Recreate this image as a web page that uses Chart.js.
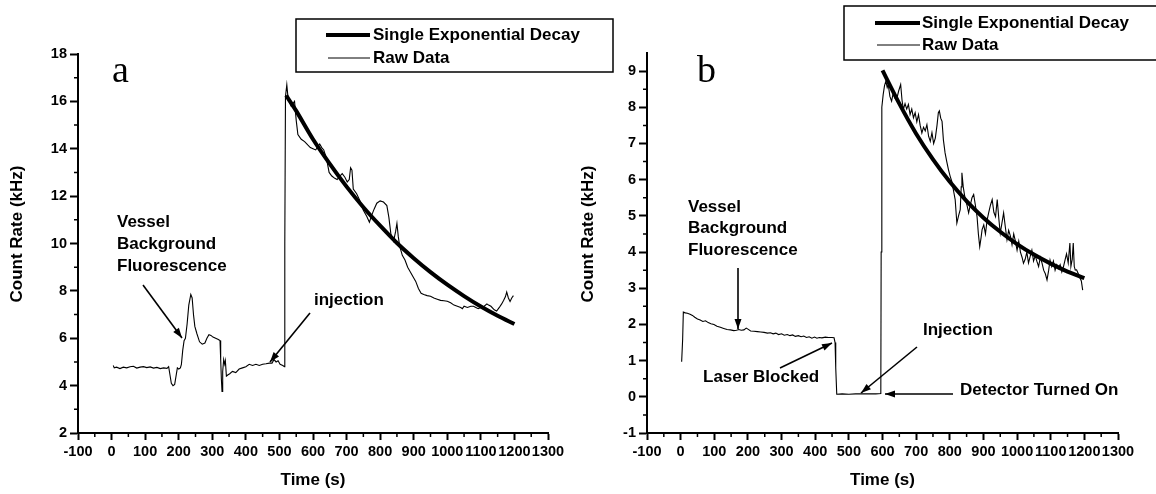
<!DOCTYPE html>
<html>
<head>
<meta charset="utf-8">
<script src="https://cdn.jsdelivr.net/npm/chart.js@4.4.0/dist/chart.umd.min.js"></script>
<style>
  html, body { margin: 0; padding: 0; background: #fff; }
  #wrap { position: relative; width: 1156px; height: 494px; }
  canvas { position: absolute; left: 0; top: 0; }
</style>
</head>
<body>
<div id="wrap">
  <canvas id="chartA" width="1156" height="494"></canvas>
  <canvas id="chartB" width="1156" height="494"></canvas>
</div>
<script>
// Panel a - raw count rate (kHz) against time (s)
const rawTimeA = [5, 8, 15, 25, 35, 45, 55, 65, 75, 85, 95, 105, 115, 125, 135, 145, 155, 165, 170, 174, 178, 183, 188, 192, 196, 200, 205, 208, 212, 216, 220, 225, 230, 236, 240, 244, 248, 254, 262, 270, 278, 284, 290, 296, 302, 310, 318, 323, 325, 327, 329, 331, 334, 337, 339, 342, 346, 352, 360, 370, 380, 390, 400, 410, 420, 430, 440, 450, 460, 470, 478, 484, 490, 496, 502, 510, 515, 516, 518, 522, 526, 535, 545, 550, 555, 565, 575, 585, 592, 600, 608, 615, 620, 626, 632, 640, 648, 656, 665, 672, 680, 687, 695, 702, 708, 712, 716, 720, 730, 740, 750, 760, 768, 775, 782, 790, 800, 810, 820, 826, 832, 840, 846, 850, 854, 858, 866, 874, 882, 890, 898, 906, 914, 922, 930, 940, 950, 960, 970, 980, 990, 1000, 1010, 1020, 1030, 1040, 1045, 1050, 1060, 1070, 1078, 1085, 1092, 1100, 1110, 1118, 1123, 1130, 1140, 1147, 1155, 1162, 1168, 1173, 1177, 1182, 1187, 1192, 1197];
const rawRateA = [4.85, 4.75, 4.78, 4.72, 4.78, 4.75, 4.8, 4.82, 4.74, 4.78, 4.8, 4.76, 4.79, 4.74, 4.77, 4.72, 4.75, 4.73, 4.8, 4.45, 4.1, 4.0, 4.05, 4.4, 4.75, 4.7, 4.75, 4.9, 5.5, 5.9, 6.0, 6.6, 7.4, 7.85, 7.7, 7.0, 6.5, 6.2, 5.85, 5.75, 5.8, 6.0, 6.15, 6.12, 6.05, 6.0, 5.95, 5.9, 5.1, 4.3, 3.75, 4.6, 5.1, 4.9, 5.05, 4.4, 4.45, 4.5, 4.6, 4.55, 4.7, 4.75, 4.8, 4.9, 4.85, 4.9, 4.85, 4.9, 4.92, 4.95, 4.95, 5.1, 5.0, 5.05, 4.9, 4.85, 4.8, 10.0, 16.2, 16.7, 16.1, 15.8, 16.0, 15.2, 14.6, 14.4, 14.3, 14.15, 14.05, 14.0, 13.95, 14.1, 14.2, 14.05, 13.95, 13.6, 13.0, 12.85, 12.75, 12.7, 12.85, 12.95, 12.8, 12.6, 12.7, 13.2, 13.1, 12.3, 12.1, 11.8, 11.4, 11.15, 10.9, 11.2, 11.45, 11.7, 11.8, 11.75, 11.6, 11.1, 10.4, 10.1, 10.5, 10.85, 10.3, 9.9, 9.5, 9.3, 9.0, 8.8, 8.6, 8.4, 8.1, 7.9, 7.85, 7.8, 7.77, 7.7, 7.65, 7.6, 7.58, 7.56, 7.5, 7.4, 7.35, 7.3, 7.25, 7.35, 7.3, 7.35, 7.35, 7.3, 7.25, 7.3, 7.35, 7.45, 7.4, 7.35, 7.2, 7.15, 7.3, 7.45, 7.6, 7.75, 7.95, 7.7, 7.55, 7.7, 7.8];
const fitTimeA = [520, 550, 600, 650, 700, 750, 800, 850, 900, 950, 1000, 1050, 1100, 1150, 1200];
const fitRateA = [16.25, 15.6, 14.4, 13.36, 12.4, 11.53, 10.75, 10.02, 9.38, 8.79, 8.26, 7.78, 7.34, 6.95, 6.6];

// Panel b
const rawTimeB = [3, 6, 8, 14, 20, 28, 35, 42, 50, 58, 66, 74, 82, 90, 99, 108, 118, 128, 138, 148, 158, 166, 173, 180, 188, 195, 200, 208, 218, 228, 238, 248, 258, 267, 275, 283, 291, 300, 308, 317, 325, 333, 341, 350, 358, 366, 374, 382, 390, 398, 405, 412, 420, 430, 440, 450, 456, 459, 461, 464, 480, 500, 520, 540, 560, 580, 595, 596, 598, 602, 606, 610, 614, 617, 622, 627, 632, 637, 642, 648, 654, 658, 662, 667, 672, 677, 682, 687, 692, 697, 702, 707, 712, 717, 722, 727, 732, 737, 742, 747, 752, 757, 762, 766, 769, 773, 777, 781, 786, 791, 796, 801, 806, 811, 816, 821, 826, 831, 834, 836, 840, 846, 851, 856, 861, 866, 871, 876, 881, 885, 889, 893, 896, 901, 906, 911, 916, 921, 926, 931, 936, 941, 946, 950, 955, 960, 965, 970, 975, 980, 985, 990, 995, 1000, 1005, 1010, 1015, 1019, 1024, 1029, 1034, 1039, 1044, 1049, 1054, 1059, 1064, 1069, 1074, 1079, 1084, 1089, 1094, 1098, 1103, 1108, 1113, 1118, 1123, 1128, 1133, 1138, 1143, 1147, 1152, 1157, 1160, 1164, 1167, 1170, 1173, 1177, 1182, 1187, 1191, 1195];
const rawRateB = [0.97, 1.6, 2.34, 2.32, 2.31, 2.28, 2.25, 2.2, 2.15, 2.12, 2.08, 2.1, 2.05, 2.02, 2.0, 1.95, 1.92, 1.89, 1.86, 1.85, 1.83, 1.84, 1.86, 1.84, 1.85, 1.9, 1.87, 1.82, 1.81, 1.8, 1.79, 1.78, 1.76, 1.77, 1.74, 1.76, 1.72, 1.74, 1.7, 1.72, 1.69, 1.71, 1.67, 1.69, 1.66, 1.68, 1.64, 1.66, 1.62, 1.65, 1.62, 1.64, 1.63, 1.65, 1.64, 1.64, 1.63, 1.5, 0.8, 0.07, 0.08, 0.07, 0.08, 0.08, 0.08, 0.08, 0.09, 4.0, 8.0, 8.35, 8.6, 8.72, 8.55, 8.63, 8.3, 8.17, 8.4, 8.25, 8.22, 8.45, 8.63, 8.2, 7.94, 8.1, 7.95, 8.08, 7.8, 7.95, 7.71, 7.85, 7.6, 7.8, 7.5, 7.29, 7.45, 7.35, 7.52, 7.2, 7.06, 7.3, 7.0, 7.15, 7.5, 7.85, 7.9, 7.7, 7.61, 7.1, 6.74, 6.5, 6.28, 6.1, 5.95, 5.7, 5.45, 4.8, 5.0, 5.17, 5.8, 6.19, 5.8, 5.45, 5.3, 5.08, 5.3, 5.5, 5.59, 5.3, 4.98, 4.5, 4.15, 4.4, 4.62, 4.75, 4.5, 4.89, 5.1, 5.3, 5.45, 5.1, 4.98, 5.45, 4.9, 4.52, 4.8, 5.08, 4.7, 4.34, 4.6, 4.45, 4.2, 4.5, 4.3, 4.05, 4.3, 4.0, 3.85, 3.69, 3.8, 4.0, 3.7, 3.88, 4.05, 3.75, 3.9, 3.74, 3.6, 3.85, 3.7, 3.5, 3.4, 3.23, 3.5, 3.78, 3.6, 3.75, 3.5, 3.65, 3.55, 3.65, 3.45, 3.6, 3.8, 3.95, 3.7, 4.25, 3.6, 3.8, 4.25, 3.6, 3.5, 3.51, 3.4, 3.28, 3.2, 2.95];
const fitTimeB = [600, 650, 700, 750, 800, 850, 900, 950, 1000, 1050, 1100, 1150, 1200];
const fitRateB = [9.02, 8.1, 7.27, 6.56, 5.94, 5.41, 4.95, 4.56, 4.22, 3.93, 3.68, 3.46, 3.28];

const FONT = '"Liberation Sans", Arial, sans-serif';
Chart.defaults.font.family = FONT;
Chart.defaults.color = '#000';

function pts(xs, ys) {
    return xs.map((x, i) => ({ x: x, y: ys[i] }));
}

// draws the short minor ticks, axis titles, legend box, arrows and labels
const decor = {
    id: 'decor',
    afterDraw(chart, args, o) {
        const ctx = chart.ctx;
        const xs = chart.scales.x, ys = chart.scales.y;
        const a = chart.chartArea;
        ctx.save();
        ctx.strokeStyle = '#000';
        ctx.fillStyle = '#000';
        ctx.lineWidth = 1.5;
        // minor ticks
        ctx.beginPath();
        for (let v = -50; v < 1300; v += 100) {
            const px = xs.getPixelForValue(v);
            ctx.moveTo(px, a.bottom); ctx.lineTo(px, a.bottom + 4);
        }
        for (let v = o.yMinor[0]; v < o.yMinor[1]; v += o.yMinor[2]) {
            const py = ys.getPixelForValue(v);
            ctx.moveTo(a.left, py); ctx.lineTo(a.left - 4, py);
        }
        ctx.stroke();

        // axis titles
        ctx.font = 'bold 17px ' + FONT;
        ctx.textAlign = 'center';
        ctx.textBaseline = 'middle';
        ctx.fillText('Time (s)', (a.left + a.right) / 2, 480);
        ctx.save();
        ctx.translate(o.yTitleX, 234);
        ctx.rotate(-Math.PI / 2);
        ctx.fillText('Count Rate (kHz)', 0, 0);
        ctx.restore();

        // panel letter
        ctx.font = '38px "Liberation Serif", "Times New Roman", serif';
        ctx.textAlign = 'left';
        ctx.textBaseline = 'alphabetic';
        ctx.fillText(o.letter[0], o.letter[1], o.letter[2]);

        // legend
        const L = o.legend;
        ctx.lineWidth = 1.5;
        ctx.strokeRect(L.x, L.y, L.w, L.h);
        ctx.lineWidth = 4;
        ctx.beginPath(); ctx.moveTo(L.lx0, L.y1); ctx.lineTo(L.lx1, L.y1); ctx.stroke();
        ctx.lineWidth = 1;
        ctx.beginPath(); ctx.moveTo(L.lx0 + 2, L.y2); ctx.lineTo(L.lx1, L.y2); ctx.stroke();
        ctx.font = 'bold 17px ' + FONT;
        ctx.textBaseline = 'middle';
        ctx.fillText('Single Exponential Decay', L.tx, L.y1);
        ctx.fillText('Raw Data', L.tx, L.y2);

        // annotations
        o.notes.forEach(n => ctx.fillText(n[0], n[1], n[2]));
        ctx.lineWidth = 1.6;
        o.arrows.forEach(r => {
            const [x0, y0, x1, y1] = r;
            const ang = Math.atan2(y1 - y0, x1 - x0);
            ctx.beginPath(); ctx.moveTo(x0, y0); ctx.lineTo(x1, y1); ctx.stroke();
            ctx.beginPath();
            ctx.moveTo(x1, y1);
            ctx.lineTo(x1 - 10 * Math.cos(ang) + 3.5 * Math.sin(ang), y1 - 10 * Math.sin(ang) - 3.5 * Math.cos(ang));
            ctx.lineTo(x1 - 10 * Math.cos(ang) - 3.5 * Math.sin(ang), y1 - 10 * Math.sin(ang) + 3.5 * Math.cos(ang));
            ctx.closePath();
            ctx.fill();
        });
        ctx.restore();
    }
};

function makeChart(id, raw, fit, yMin, yMax, yStep, padding, deco) {
    const tickFont = { size: 14.5, weight: 'bold' };
    return new Chart(document.getElementById(id), {
        type: 'line',
        data: {
            datasets: [
                { label: 'Single Exponential Decay', data: fit, borderColor: '#000', borderWidth: 4,
                  pointRadius: 0, tension: 0.3, fill: false },
                { label: 'Raw Data', data: raw, borderColor: '#000', borderWidth: 1.1,
                  pointRadius: 0, tension: 0, fill: false }
            ]
        },
        options: {
            responsive: false,
            animation: false,
            layout: { padding: padding },
            plugins: { legend: { display: false }, tooltip: { enabled: false }, decor: deco },
            scales: {
                x: {
                    type: 'linear', min: -100, max: 1300,
                    afterFit: s => { s.height = 30; },
                    ticks: { stepSize: 100, font: tickFont, color: '#000', padding: 3,
                             maxRotation: 0, autoSkip: false, callback: v => String(v) },
                    grid: { drawOnChartArea: false, tickLength: 7, tickWidth: 2, tickColor: '#000' },
                    border: { color: '#000', width: 2 }
                },
                y: {
                    type: 'linear', min: yMin, max: yMax,
                    afterFit: s => { s.width = 60; },
                    afterBuildTicks: s => { s.ticks = s.ticks.filter(t => Number.isInteger(t.value)); },
                    ticks: { stepSize: yStep, font: tickFont, color: '#000', padding: 3,
                             callback: v => String(v) },
                    grid: { drawOnChartArea: false, tickLength: 8, tickWidth: 2, tickColor: '#000' },
                    border: { color: '#000', width: 2 }
                }
            }
        },
        plugins: [decor]
    });
}

makeChart('chartA', pts(rawTimeA, rawRateA), pts(fitTimeA, fitRateA), 2, 18, 2,
    { left: 18, top: 54, right: 608, bottom: 31 },
    {
        yMinor: [3, 18, 2], yTitleX: 17, letter: ['a', 112, 82],
        legend: { x: 296, y: 19, w: 317, h: 53, lx0: 326, lx1: 370, y1: 35, y2: 58, tx: 373 },
        notes: [['Vessel', 117, 222], ['Background', 117, 244], ['Fluorescence', 117, 266], ['injection', 314, 300]],
        arrows: [[143, 285, 182, 338], [310, 313, 270, 362]]
    });

makeChart('chartB', pts(rawTimeB, rawRateB), pts(fitTimeB, fitRateB), -1, 9.5, 1,
    { left: 587, top: 53, right: 38, bottom: 31 },
    {
        yMinor: [-0.5, 9, 1], yTitleX: 588, letter: ['b', 697, 82],
        legend: { x: 844, y: 6, w: 320, h: 54, lx0: 875, lx1: 920, y1: 23, y2: 45, tx: 922 },
        notes: [['Vessel', 688, 207], ['Background', 688, 228], ['Fluorescence', 688, 250],
                ['Laser Blocked', 703, 377], ['Injection', 923, 330], ['Detector Turned On', 960, 390]],
        arrows: [[738, 268, 738, 329], [780, 368, 832, 343], [917, 347, 861, 393], [953, 394, 885, 394]]
    });
</script>
</body>
</html>
